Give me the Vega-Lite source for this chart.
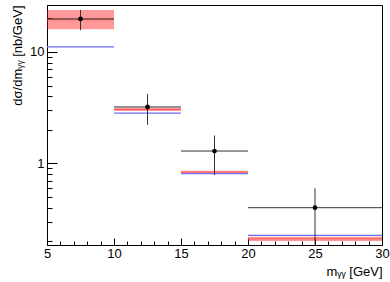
{
  "$schema": "https://vega.github.io/schema/vega-lite/v6.json",
  "width": 335,
  "height": 240,
  "autosize": {"type": "none"},
  "padding": {"left": 47, "top": 5, "right": 8, "bottom": 37},
  "background": "white",
  "config": {
    "view": {"stroke": "black", "strokeWidth": 1},
    "axis": {
      "domainColor": "black",
      "tickColor": "black",
      "labelColor": "black",
      "titleColor": "black",
      "labelFont": "Liberation Sans",
      "titleFont": "Liberation Sans",
      "labelFontSize": 13,
      "titleFontSize": 13,
      "titleFontWeight": "normal",
      "grid": false
    }
  },
  "data": {
    "values": [
      {"lo": 5, "hi": 10, "xc": 7.5, "val": 19.8, "ylo": 15.7, "yhi": 23.8, "blo": 16.0, "bhi": 23.8, "bc": 19.5, "blue": 11.1},
      {"lo": 10, "hi": 15, "xc": 12.5, "val": 3.21, "ylo": 2.22, "yhi": 4.2, "blo": 2.95, "bhi": 3.15, "bc": 3.05, "blue": 2.83},
      {"lo": 15, "hi": 20, "xc": 17.5, "val": 1.29, "ylo": 0.785, "yhi": 1.78, "blo": 0.813, "bhi": 0.859, "bc": 0.836, "blue": 0.81},
      {"lo": 20, "hi": 30, "xc": 25, "val": 0.40, "ylo": 0.15, "yhi": 0.597, "blo": 0.201, "bhi": 0.219, "bc": 0.21, "blue": 0.226}
    ]
  },
  "encoding": {
    "x": {
      "field": "lo", "type": "quantitative",
      "scale": {"domain": [5, 30], "nice": false, "zero": false},
      "axis": {
        "title": "mᵧᵧ [GeV]",
        "titleAnchor": "end",
        "titleAlign": "right",
        "titleX": 335,
        "titleY": 30,
        "titleBaseline": "alphabetic",
        "values": [5,6,7,8,9,10,11,12,13,14,15,16,17,18,19,20,21,22,23,24,25,26,27,28,29,30],
        "labelExpr": "datum.value % 5 == 0 ? datum.label : ''",
        "tickSize": {"condition": {"test": "datum.value % 5 == 0", "value": -7}, "value": -4},
        "labelPadding": 9,
        "labelFlush": false,
        "labelOverlap": false
      }
    },
    "y": {
      "field": "val", "type": "quantitative",
      "scale": {"type": "log", "domain": [0.185, 26.4], "nice": false},
      "axis": {
        "title": "dσ/dmᵧᵧ [nb/GeV]",
        "titleAngle": -90,
        "titleAlign": "right",
        "titleBaseline": "alphabetic",
        "titleX": -26,
        "titleY": 0,
        "values": [0.2,0.3,0.4,0.5,0.6,0.7,0.8,0.9,1,2,3,4,5,6,7,8,9,10,20],
        "labelExpr": "datum.value == 1 || datum.value == 10 ? datum.label : ''",
        "tickSize": {"condition": {"test": "datum.value == 1 || datum.value == 10", "value": -10}, "value": -5},
        "labelPadding": 13,
        "labelOverlap": false,
        "labelFlush": false
      }
    }
  },
  "layer": [
    {
      "mark": {"type": "rect", "color": "#ff0000", "opacity": 0.4, "clip": true},
      "encoding": {
        "x": {"field": "lo", "type": "quantitative"},
        "x2": {"field": "hi"},
        "y": {"field": "blo", "type": "quantitative"},
        "y2": {"field": "bhi"}
      }
    },
    {
      "mark": {"type": "rule", "color": "#ff5555", "strokeWidth": 1, "clip": true},
      "encoding": {
        "x": {"field": "lo", "type": "quantitative"},
        "x2": {"field": "hi"},
        "y": {"field": "bc", "type": "quantitative"}
      }
    },
    {
      "mark": {"type": "rule", "color": "#6f6fff", "strokeWidth": 1.2, "clip": true},
      "encoding": {
        "x": {"field": "lo", "type": "quantitative"},
        "x2": {"field": "hi"},
        "y": {"field": "blue", "type": "quantitative"}
      }
    },
    {
      "mark": {"type": "rule", "color": "#333333", "strokeWidth": 1, "clip": true},
      "encoding": {
        "x": {"field": "lo", "type": "quantitative"},
        "x2": {"field": "hi"},
        "y": {"field": "val", "type": "quantitative"}
      }
    },
    {
      "mark": {"type": "rule", "color": "#333333", "strokeWidth": 1, "clip": true},
      "encoding": {
        "x": {"field": "xc", "type": "quantitative"},
        "y": {"field": "ylo", "type": "quantitative"},
        "y2": {"field": "yhi"}
      }
    },
    {
      "mark": {"type": "point", "filled": true, "color": "black", "opacity": 1, "size": 22, "shape": "circle"},
      "encoding": {
        "x": {"field": "xc", "type": "quantitative"},
        "y": {"field": "val", "type": "quantitative"}
      }
    }
  ]
}
